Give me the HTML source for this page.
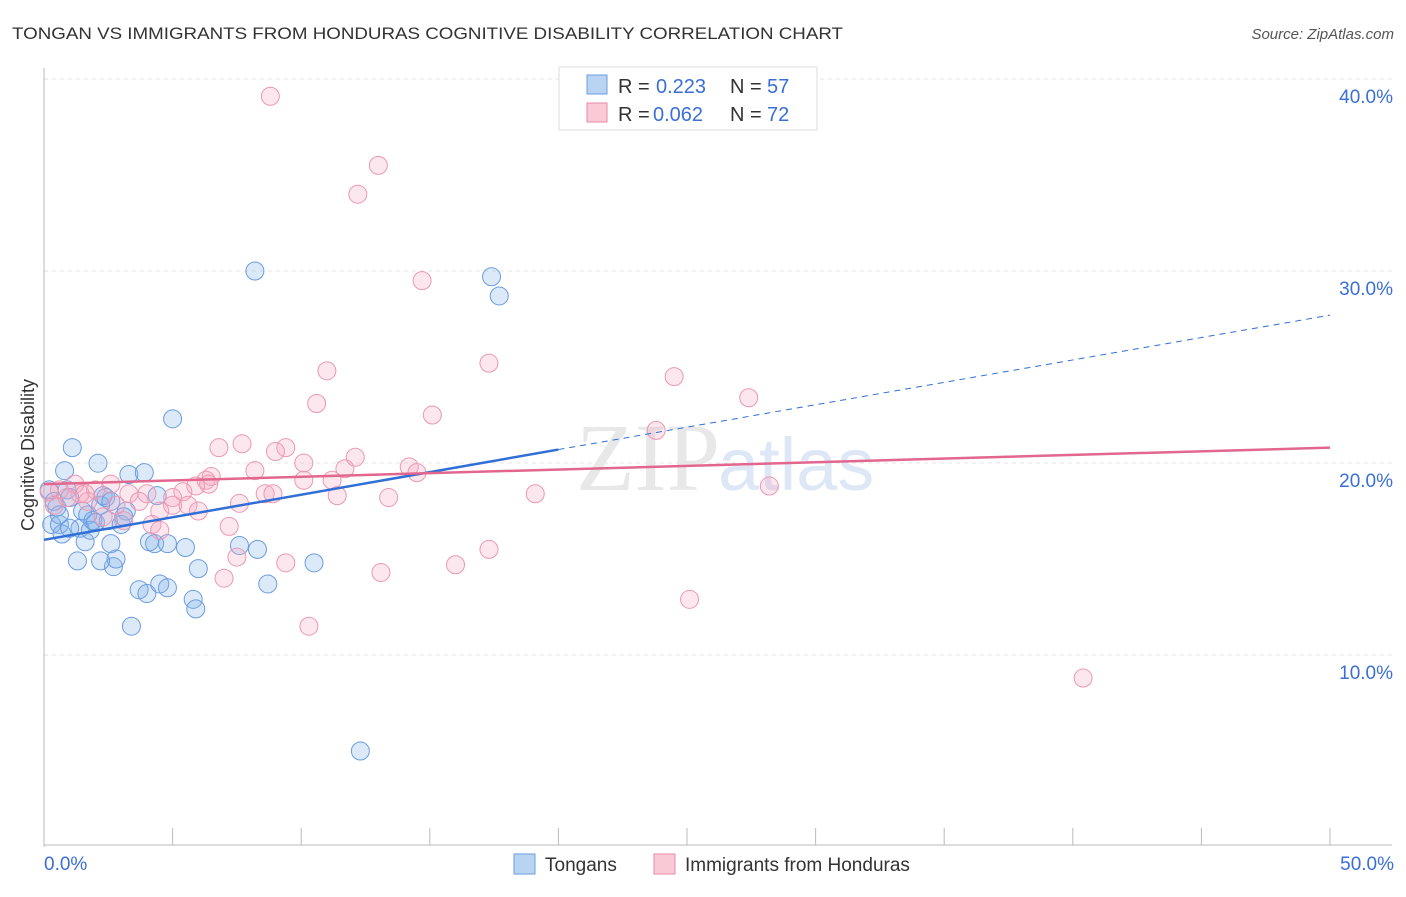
<!DOCTYPE html>
<html><head><meta charset="utf-8"><style>
body{margin:0;background:#fff;font-family:"Liberation Sans",sans-serif}
</style></head><body>
<svg width="1406" height="892" xmlns="http://www.w3.org/2000/svg" font-family="Liberation Sans, sans-serif">
<text x="12" y="39" font-size="17" fill="#333" textLength="831" lengthAdjust="spacingAndGlyphs">TONGAN VS IMMIGRANTS FROM HONDURAS COGNITIVE DISABILITY CORRELATION CHART</text>
<text x="1394" y="39" font-size="15" fill="#555" font-style="italic" text-anchor="end">Source: ZipAtlas.com</text>
<g id="grid"></g>
<text x="720" y="490" font-size="96" fill="#e8e8e8" font-family="Liberation Serif, serif" text-anchor="end">ZIP</text>
<text x="718" y="490" font-size="74" fill="#dde7f5">atlas</text>
<g id="marks"></g>
<text x="34" y="455" font-size="18" fill="#333" text-anchor="middle" transform="rotate(-90 34 455)">Cognitive Disability</text>
<g>
<rect x="559" y="67" width="258" height="63" fill="#fff" stroke="#ddd"/>
<rect x="587" y="75" width="20" height="19" fill="#b9d3f3" stroke="#6a9de0"/>
<rect x="587" y="103" width="20" height="19" fill="#f9c9d6" stroke="#e88aa6"/>
<text x="618" y="93" font-size="20" fill="#333">R =</text>
<text x="656" y="93" font-size="20" fill="#3a6fd8">0.223</text>
<text x="730" y="93" font-size="20" fill="#333">N =</text>
<text x="767" y="93" font-size="20" fill="#3a6fd8">57</text>
<text x="618" y="121" font-size="20" fill="#333">R =</text>
<text x="653" y="121" font-size="20" fill="#3a6fd8">0.062</text>
<text x="730" y="121" font-size="20" fill="#333">N =</text>
<text x="767" y="121" font-size="20" fill="#3a6fd8">72</text>
</g>
<g>
<rect x="514" y="854" width="21" height="20" fill="#b9d3f3" stroke="#6a9de0"/>
<text x="545" y="871" font-size="19" fill="#333">Tongans</text>
<rect x="654" y="854" width="21" height="20" fill="#f9c9d6" stroke="#e88aa6"/>
<text x="685" y="871" font-size="19" fill="#333">Immigrants from Honduras</text>
</g>
</svg>
<script>
const xTicks=[0,5,10,15,20,25,30,35,40,45,50];
const yTicks=[10,20,30,40];
const blueX=[0.2,0.3,0.4,0.5,0.6,0.7,0.8,0.9,1.0,1.1,1.3,1.4,1.5,1.6,1.7,1.8,1.9,2.0,2.1,2.2,2.3,2.4,2.5,2.6,2.7,2.8,2.2,3.2,3.3,3.4,3.7,3.9,4.0,4.1,4.3,4.4,4.5,4.8,4.8,5.0,5.5,5.8,5.9,6.0,7.6,8.2,8.3,8.7,10.5,12.3,17.4,17.7,3.0,3.1,2.6,1.0,0.6];
const blueY=[18.6,16.8,18.0,17.7,16.8,16.3,19.6,18.6,18.2,20.8,14.9,16.6,17.5,15.9,17.3,16.5,17.0,16.9,19.99,17.8,18.3,18.2,17.0,15.8,14.6,15.0,14.9,17.5,19.4,11.5,13.4,19.5,13.2,15.9,15.8,18.3,13.7,15.8,13.5,22.3,15.6,12.9,12.4,14.5,15.7,30.0,15.5,13.7,14.8,5.0,29.7,28.7,16.8,17.2,18.0,16.6,17.3];
const pinkX=[8.8,13.0,12.2,14.7,17.3,11.0,10.6,15.1,24.5,27.4,23.8,7.7,6.8,9.4,9.0,12.1,10.1,11.7,14.2,14.5,8.2,6.5,6.3,6.4,5.9,5.4,5.0,4.0,3.3,2.6,2.0,1.4,1.2,0.6,0.2,0.4,1.7,2.8,3.7,4.5,5.0,5.6,6.0,7.6,8.6,8.9,10.1,11.2,11.4,13.4,19.1,28.2,4.2,4.5,3.1,7.2,7.5,7.0,9.4,13.1,16.0,17.3,25.1,10.3,40.4,2.3,0.9,1.6];
const pinkY=[39.1,35.5,34.0,29.5,25.2,24.8,23.1,22.5,24.5,23.4,21.7,21.0,20.8,20.8,20.6,20.3,20.0,19.7,19.8,19.5,19.6,19.3,19.1,18.9,18.8,18.5,18.2,18.4,18.4,18.9,18.6,18.4,18.9,18.6,18.5,17.8,18.0,17.8,18.0,17.5,17.8,17.8,17.5,17.9,18.4,18.4,19.1,19.1,18.3,18.2,18.4,18.8,16.8,16.5,17.0,16.7,15.1,14.0,14.8,14.3,14.7,15.5,12.9,11.5,8.8,17.2,18.2,18.4];
const X0=44,X1=1330,Y0=847,PY=19.2;
const sx=v=>X0+(X1-X0)*v/50, sy=v=>Y0-PY*v;
const NS="http://www.w3.org/2000/svg";
function mk(t,a,p){const e=document.createElementNS(NS,t);for(const k in a)e.setAttribute(k,a[k]);p.appendChild(e);return e;}
const grid=document.getElementById('grid'), marks=document.getElementById('marks');
for(const t of yTicks){
 const l=mk('line',{x1:X0,x2:1392,y1:sy(t),y2:sy(t),stroke:'#e4e4e4','stroke-dasharray':'4,4'},grid);
 
 
 const tx=mk('text',{x:1393,y:sy(t)+24,'font-size':19,fill:'#3a6fd8','text-anchor':'end'},grid);tx.textContent=t.toFixed(1)+'%';
 
 
}
mk('line',{x1:X0,x2:X0,y1:68,y2:847,stroke:'#bbb'},grid);
mk('line',{x1:X0,x2:1392,y1:845,y2:845,stroke:'#bbb'},grid);
for(const t of xTicks){
 const l=mk('line',{x1:sx(t),x2:sx(t),y1:828,y2:845,stroke:'#bbb'},grid);
 
 
}
const xl=[[0,'0.0%','start',44],[50,'50.0%','end',1394]];
for(const [v,s,a,x] of xl){const tx=mk('text',{x:x,y:870,'font-size':19,fill:'#3a6fd8','text-anchor':a},grid);tx.textContent=s;
 
 }
for(let i=0;i<blueX.length;i++){
 const c=mk('circle',{cx:sx(blueX[i]),cy:sy(blueY[i]),r:9,fill:'rgba(130,175,235,0.28)',stroke:'#6a9de0','stroke-width':1},marks);
 
 
}
for(let i=0;i<pinkX.length;i++){
 const c=mk('circle',{cx:sx(pinkX[i]),cy:sy(pinkY[i]),r:9,fill:'rgba(245,170,195,0.28)',stroke:'#ec98b2','stroke-width':1},marks);
 
 
}
const b=mk('line',{x1:sx(0),y1:sy(16.0),x2:sx(20),y2:sy(20.7),stroke:'#2f6fd6','stroke-width':2.5},marks);


const bd=mk('line',{x1:sx(20),y1:sy(20.7),x2:sx(50),y2:sy(27.7),stroke:'#2f6fd6','stroke-width':1,'stroke-dasharray':'6,5'},marks);


const p=mk('line',{x1:sx(0),y1:sy(18.9),x2:sx(50),y2:sy(20.8),stroke:'#e2668e','stroke-width':2.5},marks);


</script>
</body></html>
